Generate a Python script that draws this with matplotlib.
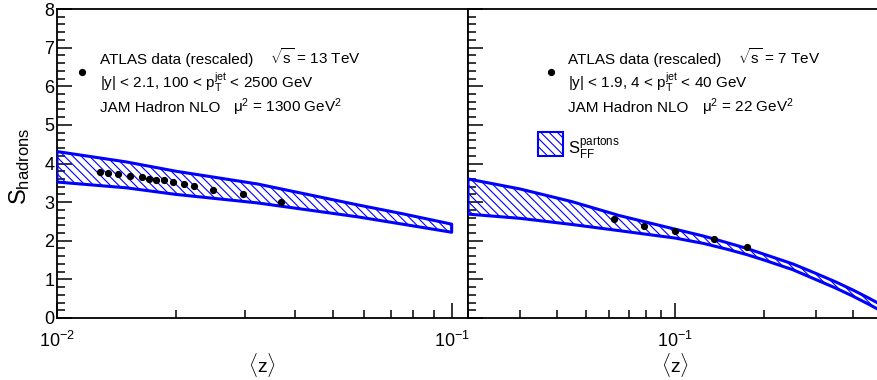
import numpy as np
import matplotlib
matplotlib.use("Agg")
import matplotlib.pyplot as plt
from matplotlib.patches import Rectangle
from matplotlib.ticker import LogLocator, MultipleLocator, LogFormatterMathtext, NullFormatter

plt.rcParams['font.family'] = ['Liberation Sans', 'DejaVu Sans']
plt.rcParams['mathtext.fontset'] = 'custom'
plt.rcParams['mathtext.rm'] = 'Liberation Sans'
plt.rcParams['mathtext.it'] = 'Liberation Sans'
plt.rcParams['mathtext.bf'] = 'Liberation Sans:bold'
plt.rcParams['hatch.linewidth'] = 0.8

# -------------------------
# Data
# -------------------------

# left panel: sqrt(s) = 13 TeV
z13 = [0.01288, 0.01347, 0.01431, 0.01529, 0.01641, 0.01709, 0.01786,
       0.01866, 0.01970, 0.02096, 0.02228, 0.02479, 0.02963, 0.0369]
s13 = [3.78, 3.75, 3.73, 3.68, 3.65, 3.61, 3.58, 3.56, 3.52, 3.47,
       3.41, 3.32, 3.20, 3.00]
e13 = [0.02, 0.02, 0.02, 0.02, 0.02, 0.02, 0.02, 0.02, 0.04, 0.02,
       0.02, 0.03, 0.03, 0.07]

band13_z = [0.01, 0.015, 0.02, 0.0322, 0.0577, 0.075, 0.1]
band13_hi = [4.31, 4.04, 3.80, 3.47, 2.93, 2.70, 2.43]
band13_lo = [3.52, 3.37, 3.20, 2.98, 2.62, 2.43, 2.22]

# right panel: sqrt(s) = 7 TeV
z7 = [0.0621, 0.0786, 0.1, 0.135, 0.1754]
s7 = [2.56, 2.37, 2.24, 2.05, 1.85]

band7_z = [0.02, 0.03, 0.045, 0.065, 0.1, 0.125, 0.15, 0.175, 0.2,
           0.25, 0.3, 0.35, 0.4, 0.45, 0.5]
band7_hi = [3.60, 3.34, 3.01, 2.65, 2.30, 2.12, 1.95, 1.80, 1.65,
            1.40, 1.15, 0.93, 0.72, 0.52, 0.33]
band7_lo = [2.69, 2.58, 2.42, 2.26, 2.07, 1.93, 1.78, 1.64, 1.50,
            1.25, 0.99, 0.77, 0.56, 0.36, 0.17]

xticks_left = [0.01, 0.1]
xticks_right = [0.1]

BLUE = (0, 0, 1)
HATCH = '\\\\\\\\'

# -------------------------
# Figure
# -------------------------

fig = plt.figure(figsize=(8.77, 3.8), dpi=100)
W, H = 877.0, 380.0
y0, y1 = 318, 9
ax1 = fig.add_axes([57 / W, (H - y0) / H, (468 - 57) / W, (y0 - y1) / H])
ax2 = fig.add_axes([468 / W, (H - y0) / H, (882 - 468) / W, (y0 - y1) / H])


def draw_band(ax, bz, hi, lo):
    px = list(bz) + list(bz)[::-1]
    py = list(hi) + list(lo)[::-1]
    ax.fill(px, py, facecolor='none', edgecolor=BLUE, hatch=HATCH,
            linewidth=0, zorder=2)
    ax.fill(px, py, facecolor='none', edgecolor=BLUE, linewidth=2.2,
            zorder=3, joinstyle='round')


def style_axes(ax, xlim, major, show_y):
    ax.set_xscale('log')
    ax.set_xlim(*xlim)
    ax.set_ylim(0, 8)
    ax.xaxis.set_major_locator(plt.FixedLocator(major))
    ax.xaxis.set_major_formatter(LogFormatterMathtext())
    ax.xaxis.set_minor_locator(LogLocator(base=10, subs=np.arange(2, 10)))
    ax.xaxis.set_minor_formatter(NullFormatter())
    ax.yaxis.set_major_locator(MultipleLocator(1))
    ax.yaxis.set_minor_locator(MultipleLocator(0.2))
    ax.tick_params(axis='both', which='major', direction='in', length=11,
                   width=1.1, labelsize=13)
    ax.tick_params(axis='both', which='minor', direction='in', length=5.5,
                   width=1.1)
    ax.tick_params(axis='x', pad=9)
    ax.tick_params(axis='y', labelleft=show_y, pad=2)
    ax.tick_params(top=False, right=False, which='both')
    for sp in ax.spines.values():
        sp.set_linewidth(1.3)
    ax.set_xlabel(r'$\langle\mathrm{z}\rangle$', fontsize=14, labelpad=0)


style_axes(ax1, (0.01, 0.11), xticks_left, True)
style_axes(ax2, (0.02, 0.5), xticks_right, False)

draw_band(ax1, band13_z, band13_hi, band13_lo)
draw_band(ax2, band7_z, band7_hi, band7_lo)

ax1.errorbar(z13, s13, yerr=e13, fmt='o', color='black', ms=4.2,
             elinewidth=1.2, capsize=0, zorder=5)
ax2.plot(z7, s7, 'o', color='black', ms=4.2, zorder=5)

fig.text(20 / W, 1 - 166 / H, r'S$_{\mathrm{hadrons}}$', rotation=90,
         ha='center', va='center', fontsize=17)

# -------------------------
# Legends / labels
# -------------------------

fs = 11


def legend_text(ax, xt, xs, xm, dot_x, energy, cut, mu):
    ax.plot([dot_x], [0.796], 'o', color='black', ms=4.2,
            transform=ax.transAxes, clip_on=False)
    ax.text(xt, 0.822, 'ATLAS data (rescaled)', transform=ax.transAxes,
            fontsize=fs, va='baseline')
    ax.text(xs, 0.822, r'$\sqrt{\mathrm{s}}$ = %s TeV' % energy,
            transform=ax.transAxes, fontsize=fs, va='baseline')
    ax.text(xt, 0.745, cut, transform=ax.transAxes, fontsize=fs,
            va='baseline')
    ax.text(xt, 0.667, 'JAM Hadron NLO', transform=ax.transAxes,
            fontsize=fs, va='baseline')
    ax.text(xm, 0.667, 'μ$^{2}$ = %s GeV$^{2}$' % mu,
            transform=ax.transAxes, fontsize=fs, va='baseline')


legend_text(ax1, 0.1046, 0.518, 0.428, 0.060, '13',
            r'|y| < 2.1, 100 < $\mathrm{p}_{\mathrm{T}}^{\mathrm{jet}}$ < 2500 GeV',
            '1300')
legend_text(ax2, 0.2415, 0.652, 0.565, 0.2005, '7',
            r'|y| < 1.9, 4 < $\mathrm{p}_{\mathrm{T}}^{\mathrm{jet}}$ < 40 GeV',
            '22')

ax2.add_patch(Rectangle((0.169, 0.524), 0.0604, 0.0777, transform=ax2.transAxes,
                        facecolor='none', edgecolor=BLUE, hatch=HATCH,
                        linewidth=1.5, clip_on=False))
ax2.text(0.2415, 0.531, r'S$_{\mathrm{FF}}^{\mathrm{partons}}$',
         transform=ax2.transAxes, fontsize=fs + 1, va='baseline')

fig.savefig('out.png', dpi=100)
